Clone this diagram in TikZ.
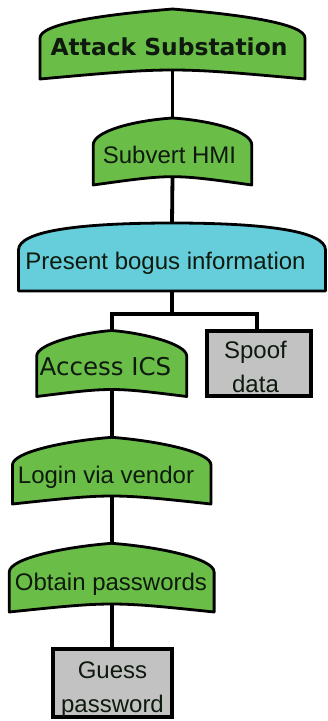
\documentclass[tikz,border=0pt]{standalone}
\usepackage{fontspec}
\setmainfont{Liberation Sans}
\newfontfamily\verafont{DejaVu Sans}

\definecolor{gategreen}{RGB}{106,190,72}
\definecolor{gatecyan}{RGB}{102,205,219}
\definecolor{leafgray}{RGB}{194,194,194}
\definecolor{ink}{RGB}{14,26,14}

% Parameters of a gate outline (all in px, y grows downwards)
\pgfkeys{/gate/.is family}
\pgfkeys{/gate,
  name/.store in=\gateName,
  cx/.store in=\gateCX, hw/.store in=\gateHW, apex/.store in=\gateApex,
  side/.store in=\gateSide, bottom/.store in=\gateBot, sag/.store in=\gateSag,
  rise/.store in=\gateRise, reach/.store in=\gateReach, drop/.store in=\gateDrop}

% Dome-topped gate with a curved (or flat) bottom; defines <name>-top and <name>-bot
\newcommand\drawgate[2]{%
  \pgfkeys{/gate,#2}%
  \path[#1] ({\gateCX-\gateHW},\gateBot) -- ({\gateCX-\gateHW},\gateSide)
    .. controls ({\gateCX-\gateHW},{\gateSide-\gateRise}) and ({\gateCX-\gateReach},{\gateApex+\gateDrop}) .. (\gateCX,\gateApex)
    .. controls ({\gateCX+\gateReach},{\gateApex+\gateDrop}) and ({\gateCX+\gateHW},{\gateSide-\gateRise}) .. ({\gateCX+\gateHW},\gateSide)
    -- ({\gateCX+\gateHW},\gateBot)
    .. controls (\gateCX,{\gateBot-4*\gateSag/3}) .. ({\gateCX-\gateHW},\gateBot) -- cycle;
  \coordinate (\gateName-top) at (\gateCX,\gateApex);
  \coordinate (\gateName-bot) at (\gateCX,{\gateBot-\gateSag});
}

\begin{document}
\begin{tikzpicture}[x=1pt,y=-1pt,
  gate/.style={draw=black,line width=2.8pt,line join=round,fill=gategreen},
  conn/.style={draw=black,line width=3.8pt},
  leaf/.style={rectangle,draw=black,line width=4.3pt,fill=leafgray,inner sep=0pt},
  lbl/.style={anchor=base,inner sep=0pt,text=ink,font=\fontsize{24}{28}\selectfont}]
\useasboundingbox (0,0) rectangle (327,721);
\fill[white] (0,0) rectangle (327,721);

% gates
\drawgate{gate}{name=attack, cx=172.5, hw=132.5, apex=9, side=38, bottom=79, sag=9, rise=14, reach=73, drop=6}
\drawgate{gate}{name=subvert, cx=172.5, hw=79.3, apex=118, side=145, bottom=185, sag=8.3, rise=13.5, reach=40, drop=2.7}
\drawgate{gate,fill=gatecyan}{name=present, cx=172, hw=153.5, apex=223, side=250, bottom=291, sag=0, rise=19, reach=93, drop=0}
\drawgate{gate}{name=access, cx=111.7, hw=75, apex=330.5, side=356, bottom=396.5, sag=7, rise=12, reach=31.7, drop=2.5}
\drawgate{gate}{name=login, cx=111.7, hw=99.3, apex=437.3, side=465, bottom=504, sag=8, rise=13, reach=46.7, drop=3.7}
\drawgate{gate}{name=obtain, cx=111.7, hw=102.4, apex=543.3, side=572, bottom=612, sag=8, rise=13.5, reach=48, drop=3.7}

% leaf boxes
\node[leaf,minimum width=104pt,minimum height=65pt] (spoof) at (259,363.5) {};
\node[leaf,minimum width=119pt,minimum height=68pt] (guess) at (112.5,683.3) {};

% connectors
\coordinate (split) at (172,314);
\draw[conn] (attack-bot) -- (subvert-top);
\draw[conn] (subvert-bot) -- (present-top);
\draw[conn] (present-bot) -- (split);
\draw[conn] (access-top) |- (split) -| ([xshift=-1.7pt]spoof.north);
\draw[conn] (access-bot) -- (login-top);
\draw[conn] (login-bot) -- (obtain-top);
\draw[conn] (obtain-bot) -- (obtain-bot |- guess.north);

% labels
\node[lbl,font=\verafont\bfseries\fontsize{23.4}{28}\selectfont] (attack) at (169,55) {Attack Substation};
\node[lbl] (subvert) at (169.5,163) {Subvert HMI};
\node[lbl] (present) at (165.5,269.5) {Present bogus information};
\node[lbl,font=\verafont\fontsize{24.5}{28}\selectfont] (access) at (105.5,375.5) {Access ICS};
\node[lbl] (spoof-l1) at (255.5,358) {Spoof};
\node[lbl] (spoof-l2) at (255.5,392) {data};
\node[lbl] (login) at (106,483) {Login via vendor};
\node[lbl] (obtain) at (111,590) {Obtain passwords};
\node[lbl] (guess-l1) at (112.5,678.5) {Guess};
\node[lbl] (guess-l2) at (112.5,712) {password};
\end{tikzpicture}
\end{document}
